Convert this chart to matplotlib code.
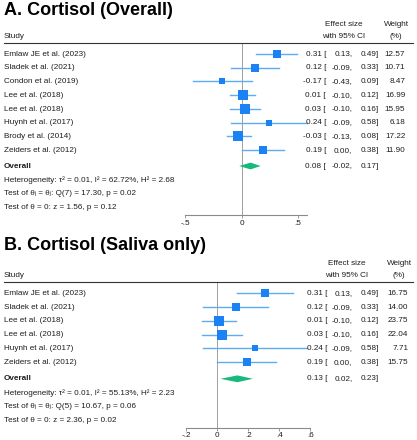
import matplotlib
matplotlib.use("Agg")
import matplotlib.pyplot as plt
from matplotlib.lines import Line2D

plt.rcParams['font.family'] = ['Liberation Sans', 'DejaVu Sans']

# Panel A: overall
studies_a = ["Emlaw JE et al. (2023)", "Sladek et al. (2021)", "Condon et al. (2019)",
             "Lee et al. (2018)", "Lee et al. (2018)", "Huynh et al. (2017)",
             "Brody et al. (2014)", "Zeiders et al. (2012)"]
est_a = [0.31, 0.12, -0.17, 0.01, 0.03, 0.24, -0.03, 0.19]
lo_a = [0.13, -0.09, -0.43, -0.10, -0.10, -0.09, -0.13, 0.00]
hi_a = [0.49, 0.33, 0.09, 0.12, 0.16, 0.58, 0.08, 0.38]
wt_a = [12.57, 10.71, 8.47, 16.99, 15.95, 6.18, 17.22, 11.90]
overall_a = (0.08, -0.02, 0.17)
stats_a = ["Heterogeneity: τ² = 0.01, I² = 62.72%, H² = 2.68",
           "Test of θᵢ = θⱼ: Q(7) = 17.30, p = 0.02",
           "Test of θ = 0: z = 1.56, p = 0.12"]
ticks_a = [-0.5, 0, 0.5]
ticklabels_a = ["-.5", "0", ".5"]

# Panel B: saliva only
studies_b = ["Emlaw JE et al. (2023)", "Sladek et al. (2021)", "Lee et al. (2018)",
             "Lee et al. (2018)", "Huynh et al. (2017)", "Zeiders et al. (2012)"]
est_b = [0.31, 0.12, 0.01, 0.03, 0.24, 0.19]
lo_b = [0.13, -0.09, -0.10, -0.10, -0.09, 0.00]
hi_b = [0.49, 0.33, 0.12, 0.16, 0.58, 0.38]
wt_b = [16.75, 14.00, 23.75, 22.04, 7.71, 15.75]
overall_b = (0.13, 0.02, 0.23)
stats_b = ["Heterogeneity: τ² = 0.01, I² = 55.13%, H² = 2.23",
           "Test of θᵢ = θⱼ: Q(5) = 10.67, p = 0.06",
           "Test of θ = 0: z = 2.36, p = 0.02"]
ticks_b = [-0.2, 0, 0.2, 0.4, 0.6]
ticklabels_b = ["-.2", "0", ".2", ".4", ".6"]

W, H = 417, 440
TXT = '#1e1e1e'
BLUE = '#1a82f5'
CI_BLUE = '#5eacf2'
GREEN = '#18b97c'
FS = 5.9

fig = plt.figure(figsize=(W / 100, H / 100), dpi=100)


def put(px, py, s, **kw):
    kw.setdefault('va', 'center')
    kw.setdefault('fontsize', FS)
    kw.setdefault('color', TXT)
    fig.text(px / W, 1 - py / H, s, **kw)


def panel(title, top, studies, est, lo, hi, wt, overall, stats, ticks, ticklabels,
          zero_px, scale, xlim, shift, extra_gap):
    # vertical layout, pixels from top of figure
    title_y = top
    head1 = top + 9.5 + (4 if shift else 0)
    head2 = head1 + 11.5
    line_y = head2 + 7
    row0 = line_y + 11
    step = 13.75
    rows = [row0 + i * step for i in range(len(studies))]
    ov_y = row0 + len(studies) * step + extra_gap
    stat_y = [ov_y + 14.3, ov_y + 27.7, ov_y + 41.3]
    axis_y = ov_y + 48.8

    put(4, title_y, title, fontsize=13, fontweight='bold', color='black', va='baseline')
    put(4, head2, "Study")
    put(343.7 + shift, head1, "Effect size", ha='center')
    put(343.7 + shift, head2, "with 95% CI", ha='center')
    put(396 + shift, head1, "Weight", ha='center')
    put(395.5 + shift, head2, "(%)", ha='center')
    fig.add_artist(Line2D([4 / W, 412.5 / W], [1 - line_y / H] * 2,
                          color='#333333', lw=0.8))

    left = zero_px + xlim[0] * scale
    width = (xlim[1] - xlim[0]) * scale
    ax = fig.add_axes([left / W, 1 - axis_y / H, width / W, (axis_y - line_y) / H])
    ax.set_xlim(*xlim)
    ax.set_ylim(axis_y, line_y)
    ax.patch.set_alpha(0)
    for side in ['top', 'left', 'right']:
        ax.spines[side].set_visible(False)
    ax.spines['bottom'].set_color('#8a8a8a')
    ax.spines['bottom'].set_linewidth(0.8)
    ax.set_yticks([])
    ax.set_xticks(ticks)
    ax.set_xticklabels(ticklabels)
    ax.tick_params(axis='x', length=2, width=0.6, color='#8a8a8a', pad=1.5,
                   labelsize=FS, labelcolor=TXT)
    ax.axvline(0, color='#a0a0a0', lw=0.7, zorder=0)

    wmax = max(wt)
    for name, e, l, h, w, y in zip(studies, est, lo, hi, wt, rows):
        ax.plot([l, h], [y, y], color=CI_BLUE, lw=1.0, clip_on=False, zorder=2)
        ax.plot([e], [y], marker='s', ls='none', color=BLUE, clip_on=False, zorder=3,
                ms=6.9 * (w / wmax) ** 0.5, mew=0)
        put(4, y, name)
        put(326 + shift * 0.5, y, f"{e:.2f} [", ha='right')
        put(352.5, y, f"{l:.2f},", ha='right')
        put(379, y, f"{h:.2f}]", ha='right')
        put(405.3 + shift, y, f"{w:.2f}", ha='right')

    e, l, h = overall
    ax.fill([l, e, h, e], [ov_y, ov_y - 3.4, ov_y, ov_y + 3.4], color=GREEN,
            lw=0, clip_on=False, zorder=3)
    put(4, ov_y, "Overall", fontweight='bold')
    put(326 + shift * 0.5, ov_y, f"{e:.2f} [", ha='right')
    put(352.5, ov_y, f"{l:.2f},", ha='right')
    put(379, ov_y, f"{h:.2f}]", ha='right')
    for s, y in zip(stats, stat_y):
        put(4, y, s)


panel("A. Cortisol (Overall)", 15, studies_a, est_a, lo_a, hi_a, wt_a, overall_a,
      stats_a, ticks_a, ticklabels_a, zero_px=241.5, scale=113, xlim=(-0.5, 0.58),
      shift=0, extra_gap=2)
panel("B. Cortisol (Saliva only)", 250.3, studies_b, est_b, lo_b, hi_b, wt_b, overall_b,
      stats_b, ticks_b, ticklabels_b, zero_px=217.3, scale=155, xlim=(-0.2, 0.6),
      shift=3, extra_gap=3)

fig.savefig("out.png", dpi=100)
